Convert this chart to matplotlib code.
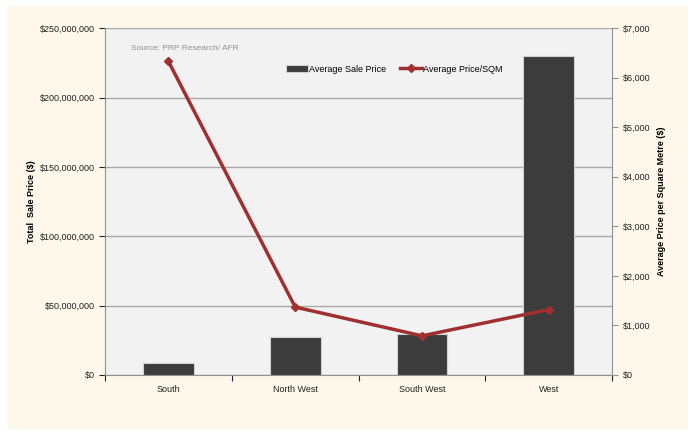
import matplotlib.pyplot as plt
from matplotlib.patches import Rectangle
from matplotlib.ticker import FuncFormatter, FixedLocator

plt.rcParams['font.family'] = ['Liberation Sans', 'DejaVu Sans']

regions = ['South', 'North West', 'South West', 'West']
total_sale = [8.5e6, 27.5e6, 29.5e6, 230e6]   # left axis, $
price_sqm = [6330, 1370, 790, 1320]           # right axis, $/m2

fig = plt.figure(figsize=(6.91, 4.33), dpi=100, facecolor='white')
fig.patches.append(Rectangle((0.01, 0.01), 0.985, 0.977, transform=fig.transFigure,
                             facecolor='#fdf8e9', edgecolor='none', zorder=-10))

ax = fig.add_axes([0.152, 0.134, 0.734, 0.801])
ax.set_facecolor('#f2f2f2')
x = range(len(regions))
bars = ax.bar(x, total_sale, width=0.4, color='#3c3c3c', edgecolor='#d0d0d0',
              linewidth=0.8, label='Average Sale Price', zorder=3)
ax.set_xlim(-0.5, 3.5)
ax.set_ylim(0, 250e6)
ax.set_yticks(range(0, 250000001, 50000000))
ax.yaxis.set_major_formatter(FuncFormatter(lambda v, p: '${:,.0f}'.format(v)))
ax.grid(axis='y', color='#a8a8a8', linewidth=1, zorder=0)
ax.xaxis.set_major_locator(FixedLocator([-0.5, 0.5, 1.5, 2.5, 3.5]))
ax.xaxis.set_minor_locator(FixedLocator(list(x)))
ax.set_xticklabels([])
ax.set_xticklabels(regions, minor=True)
ax.tick_params(axis='x', which='minor', length=0, pad=7)
ax.tick_params(axis='x', which='major', length=4, color='#909090')
ax.tick_params(axis='y', length=4, color='#909090', pad=3)
ax.tick_params(which='both', labelsize=6.5, colors='#222222')
for s in ['top', 'right']:
    ax.spines[s].set_visible(False)
for s in ['left', 'bottom']:
    ax.spines[s].set_color('#909090')
ax.set_ylabel('Total  Sale Price ($)', fontsize=6.5, fontweight='bold', labelpad=3)

ax2 = ax.twinx()
line, = ax2.plot(x, price_sqm, color='#a03030', linewidth=2.5, marker='D',
                 markersize=4.5, label='Average Price/SQM', zorder=4)
ax2.set_ylim(0, 7000)
ax2.set_yticks(range(0, 7001, 1000))
ax2.yaxis.set_major_formatter(FuncFormatter(lambda v, p: '${:,.0f}'.format(v)))
ax2.tick_params(axis='y', length=4, color='#909090', labelsize=6.5, colors='#222222', pad=4)
for s in ['top', 'left', 'bottom']:
    ax2.spines[s].set_visible(False)
ax2.spines['right'].set_color('#909090')
ax2.set_ylabel('Average Price per Square Metre ($)', fontsize=6.5, fontweight='bold', labelpad=4)

ax.text(0.052, 0.94, 'Source: PRP Research/ AFR', transform=ax.transAxes,
        fontsize=6, color='#909090', va='center')
ax.legend([bars, line], ['Average Sale Price', 'Average Price/SQM'], loc='center',
          bbox_to_anchor=(0.57, 0.882), ncol=2, frameon=False, fontsize=6.5,
          handlelength=2.5, columnspacing=1.5, handletextpad=0.1)

fig.savefig('out.png', dpi=100, facecolor=fig.get_facecolor())
